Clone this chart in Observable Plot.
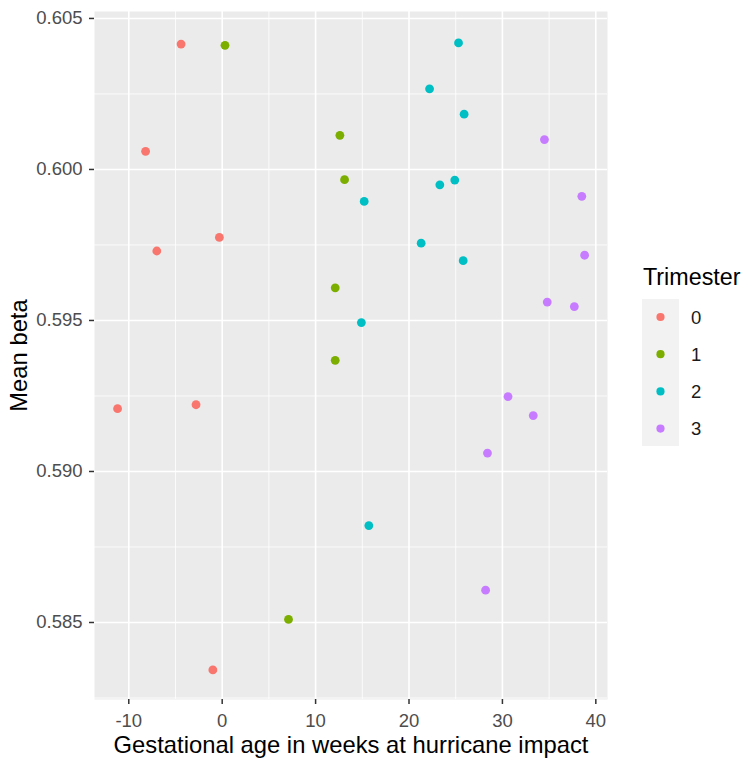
<!DOCTYPE html>
<html><head><meta charset="utf-8">
<script src="https://cdn.jsdelivr.net/npm/d3@7"></script>
<script src="https://cdn.jsdelivr.net/npm/@observablehq/plot@0.6"></script>
<style>
body{margin:0;background:#fff;font-family:"Liberation Sans",Arial,sans-serif;}
#wrap{position:relative;width:749px;height:767px;}
#legend{position:absolute;left:0;top:0;pointer-events:none;}
</style></head><body><div id="wrap"></div>
<script>
const trimesters = ["0", "1", "2", "3"];
const weeks0 = [-4.4, -8.2, -0.3, -7.0, -11.2, -2.8, -1.0];
const beta0  = [0.60415, 0.60060, 0.59775, 0.59730, 0.59208, 0.59221, 0.58343];
const weeks1 = [0.3, 12.6, 13.1, 12.1, 12.1, 7.1];
const beta1  = [0.60411, 0.60113, 0.59966, 0.59608, 0.59368, 0.58510];
const weeks2 = [25.3, 22.2, 25.9, 23.3, 24.9, 15.2, 21.3, 25.8, 14.9, 15.7];
const beta2  = [0.60419, 0.60267, 0.60183, 0.59949, 0.59965, 0.59894, 0.59756, 0.59698, 0.59493, 0.58821];
const weeks3 = [34.5, 38.5, 38.8, 34.8, 37.7, 30.6, 33.3, 28.4, 28.2];
const beta3  = [0.60099, 0.59911, 0.59716, 0.59561, 0.59546, 0.59248, 0.59185, 0.59061, 0.58607];
const xTicks = [-10, 0, 10, 20, 30, 40];
const xMinor = [-5, 5, 15, 25, 35];
const yTicks = [0.585, 0.590, 0.595, 0.600, 0.605];
const yMinor = [0.5825, 0.5875, 0.5925, 0.5975, 0.6025];
const xTitle = "Gestational age in weeks at hurricane impact";
const yTitle = "Mean beta";
const legendTitle = "Trimester";
const colors = ["#F8766D", "#7CAE00", "#00BFC4", "#C77CFF"];

const weeksAll = [weeks0, weeks1, weeks2, weeks3];
const betaAll = [beta0, beta1, beta2, beta3];
const data = [];
trimesters.forEach((t, i) => weeksAll[i].forEach((w, j) => data.push({t, w, b: betaAll[i][j]})));

const font = "'Liberation Sans', Arial, sans-serif";
const plot = Plot.plot({
  width: 749, height: 767,
  marginTop: 11, marginBottom: 68, marginLeft: 94, marginRight: 142,
  style: {fontFamily: font, fontSize: "18px", background: "white", overflow: "visible"},
  x: {domain: [-13.67, 41.25]},
  y: {domain: [0.58245, 0.60523]},
  color: {domain: trimesters, range: colors},
  marks: [
    Plot.frame({fill: "#ebebeb", stroke: null}),
    Plot.ruleX(xMinor, {stroke: "white", strokeWidth: 0.8}),
    Plot.ruleY(yMinor, {stroke: "white", strokeWidth: 0.8}),
    Plot.ruleX(xTicks, {stroke: "white", strokeWidth: 1.6}),
    Plot.ruleY(yTicks, {stroke: "white", strokeWidth: 1.6}),
    Plot.axisX({ticks: xTicks, tickSize: 5, tickPadding: 9, label: null, fontSize: 18.5, fill: "#4d4d4d", stroke: "#333333", strokeWidth: 1.5, tickFormat: d => String(d)}),
    Plot.axisY({ticks: yTicks, tickSize: 5, tickPadding: 7, label: null, fontSize: 18.5, fill: "#4d4d4d", stroke: "#333333", strokeWidth: 1.5, tickFormat: d3.format(".3f")}),
    Plot.text([xTitle], {text: d => d, frameAnchor: "bottom", dy: 53, lineAnchor: "bottom", textAnchor: "middle", fontSize: 23.8, fill: "black"}),
    Plot.text([yTitle], {text: d => d, frameAnchor: "left", dx: -68, rotate: -90, lineAnchor: "bottom", textAnchor: "middle", fontSize: 23.8, fill: "black"}),
    Plot.dot(data, {x: "w", y: "b", fill: "t", r: 4.4, stroke: null})
  ]
});
const wrap = document.getElementById("wrap");
wrap.appendChild(plot);

// legend (outside the plot SVG), colours taken from the plot's color scale
const cs = plot.scale("color");
const lg = d3.select(wrap).append("svg").attr("id", "legend").attr("width", 749).attr("height", 767)
  .style("font-family", font);
lg.append("text").attr("x", 643).attr("y", 285).attr("font-size", 23.3).attr("fill", "black").text(legendTitle);
lg.append("rect").attr("x", 642).attr("y", 299).attr("width", 37).attr("height", 147).attr("fill", "#f2f2f2");
trimesters.forEach((t, i) => {
  const cy = 317 + i * 37.2;
  lg.append("circle").attr("cx", 660.5).attr("cy", cy).attr("r", 4.1).attr("fill", cs.apply(t));
  lg.append("text").attr("x", 691).attr("y", cy).attr("dy", "0.36em").attr("font-size", 18.5).attr("fill", "#1a1a1a").text(t);
});
</script></body></html>
